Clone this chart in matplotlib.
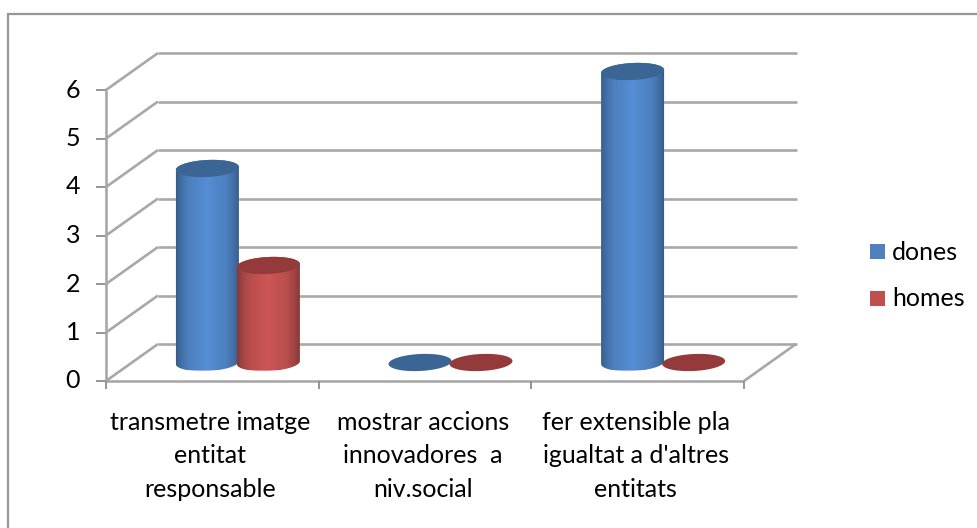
import numpy as np
import matplotlib
matplotlib.use('Agg')
from matplotlib import pyplot as plt
from matplotlib.lines import Line2D
from matplotlib.patches import PathPatch, Rectangle
from matplotlib.path import Path

categories = ['transmetre imatge\nentitat\nresponsable',
              'mostrar accions\ninnovadores  a\nniv.social',
              "fer extensible pla\nigualtat a d'altres\nentitats"]
dones = [4, 0, 6]
homes = [2, 0, 0]
y_ticks = [0, 1, 2, 3, 4, 5, 6]

W, H = 977, 528
plt.rcParams['font.family'] = ['Lato', 'DejaVu Sans']

GRID = '#a8a8a8'
fig = plt.figure(figsize=(W / 100, H / 100), dpi=100)
# chart frame only shows on the top and left, the rest is cropped
fig.add_artist(Line2D([8 / W, 8 / W, 1], [0, 1 - 14 / H, 1 - 14 / H], transform=fig.transFigure,
                      color='#969696', lw=1.6, solid_joinstyle='miter'))

# front plane of the 3d box
ax = fig.add_axes([106 / W, 1 - 381 / H, 638 / W, 291 / H])
ax.set_xlim(0, 3)
ax.set_ylim(0, 6)
ax.axis('off')

dx = 52 / (638 / 3)   # depth offset in data units
dy = 37 / 48.5


def line(xs, ys, lw=1.9, color=GRID, z=1):
    ax.plot(xs, ys, color=color, lw=lw, clip_on=False, zorder=z, solid_capstyle='butt')


for v in y_ticks:
    line([0, dx], [v, v + dy])
    line([dx, 3 + dx + 0.003], [v + dy, v + dy])
    line([-10 / 212.7, 0], [v, v], lw=1.3, color='#8c8c8c')
line([0, 0], [0, 6])
line([0, 3], [0, 0])
line([3, 3 + dx], [0, dy])
for i in range(4):
    line([i, i], [0, -8 / 48.5], lw=1.3, color='#8c8c8c')

for v in y_ticks:
    ax.annotate(str(v), (0, v), xytext=(-26, 0), textcoords='offset pixels', ha='right',
                va='center', fontsize=18, color='black', annotation_clip=False)
for i, lab in enumerate(categories):
    ax.annotate(lab, (i + 0.5, 0), xytext=(-2, -30), textcoords='offset pixels', ha='center',
                va='top', fontsize=18, color='black', linespacing=1.54, annotation_clip=False)

bar_w = 63 / (638 / 3)
ell_h = 17 / 48.5
tilt = 3 / 48.5 / bar_w   # the ellipses lean up to the right
offsets = [-31 / 212.7, 30 / 212.7]


def edge(cx, cy, ts):
    a = bar_w / 2
    xs = cx + a * np.cos(ts)
    return xs, cy + ell_h / 2 * np.sin(ts) + tilt * (xs - cx)


def shade(base):
    t = np.array([0, .06, .2, .5, .8, .94, 1.0])
    f = np.array([.66, .76, .9, 1.0, .9, .76, .66])
    rgb = np.array(matplotlib.colors.to_rgb(base))
    return np.array([[rgb * k for k in np.interp(np.linspace(0, 1, 64), t, f)]])


def cylinder(cx, v, base, top, low):
    x0 = cx - bar_w / 2
    x1 = cx + bar_w / 2
    y0 = dy / 2
    y1 = v + dy / 2
    if v > 0:
        xb, yb = edge(cx, y0, np.linspace(np.pi, 2 * np.pi, 40))
        xt, yt = edge(cx, y1, np.linspace(0, np.pi, 40))
        verts = np.c_[np.r_[xb, xt], np.r_[yb, yt]]
        clip = PathPatch(Path(verts), transform=ax.transData, fc=low, ec='none', zorder=2.5, clip_on=False)
        ax.add_patch(clip)
        im = ax.imshow(shade(base), extent=[x0, x1, y0 - 0.15, y1 + 0.3], aspect='auto', zorder=3,
                       interpolation='bilinear')
        im.set_clip_path(clip)
        im.set_clip_box(fig.bbox)
    xe, ye = edge(cx, y1, np.linspace(0, 2 * np.pi, 80))
    ax.fill(xe, ye, color=top, lw=0, zorder=4, clip_on=False)


for i in range(3):
    cx = i + 0.5 + dx / 2
    cylinder(cx + offsets[0], dones[i], '#558ed5', '#3a6595', '#9db8de')
    cylinder(cx + offsets[1], homes[i], '#cd5656', '#953a3a', '#dc8f8f')
ax.set_xlim(0, 3)
ax.set_ylim(0, 6)

# legend
for name, col, y in [('dones', '#4f81bd', 252), ('homes', '#c0504d', 299)]:
    fig.add_artist(Rectangle((870 / W, 1 - (y + 7) / H), 15 / W, 15 / H,
                             transform=fig.transFigure, fc=col, ec='none'))
    fig.text(892 / W, 1 - y / H, name, fontsize=18, va='center', ha='left', color='black')

fig.savefig('out.png', dpi=100)
